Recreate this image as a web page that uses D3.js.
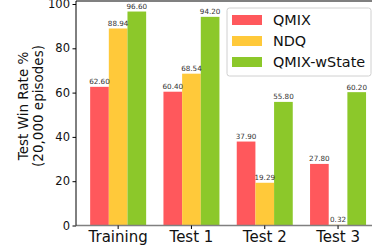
<!DOCTYPE html>
<html>
<head>
<meta charset="utf-8">
<script src="https://cdn.jsdelivr.net/npm/d3@7"></script>
<style>
  body { margin: 0; background: #fff; }
  svg { display: block; font-family: "DejaVu Sans", sans-serif; }
</style>
</head>
<body>
<svg id="chart" width="372" height="248"></svg>
<script>
// chart data
const categories = ["Training", "Test 1", "Test 2", "Test 3"];
const seriesNames = ["QMIX", "NDQ", "QMIX-wState"];
const qmix = [62.60, 60.40, 37.90, 27.80];
const ndq = [88.94, 68.54, 19.29, 0.32];
const qmixWState = [96.60, 94.20, 55.80, 60.20];
const yTicks = [0, 20, 40, 60, 80, 100];
const colors = ["#ff585c", "#ffc93a", "#8cc82a"];

const seriesValues = [qmix, ndq, qmixWState];
const rows = [];
categories.forEach((c, i) => {
  seriesNames.forEach((s, j) => rows.push({ cat: c, series: s, value: seriesValues[j][i] }));
});

const svg = d3.select("#chart");
const plotLeft = 76, plotRight = 372, plotTop = 1, plotBottom = 225.5;

//scales
const x0 = d3.scaleBand().domain(categories).range([81.5, 374.7]);
const x1 = d3.scaleBand().domain(seriesNames).range([8.65, 64.65]);
const y = d3.scaleLinear().domain([0, 100]).range([plotBottom, 4]);
const color = d3.scaleOrdinal().domain(seriesNames).range(colors);

//bars
svg.selectAll(".bar")
  .data(rows)
  .join("rect")
  .attr("class", "bar")
  .attr("x", d => x0(d.cat) + x1(d.series))
  .attr("y", d => y(d.value))
  .attr("width", x1.bandwidth())
  .attr("height", d => plotBottom - y(d.value))
  .attr("fill", d => color(d.series));

//value labels
svg.selectAll(".val")
  .data(rows)
  .join("text")
  .attr("class", "val")
  .attr("x", d => x0(d.cat) + x1(d.series) + x1.bandwidth() / 2)
  .attr("y", d => y(d.value) - 2.5)
  .attr("text-anchor", "middle")
  .attr("font-size", 7.2)
  .attr("fill", "#333")
  .text(d => d.value.toFixed(2));

//spines
svg.append("line").attr("x1", plotLeft).attr("x2", plotRight).attr("y1", plotTop).attr("y2", plotTop)
  .attr("stroke", "#808080").attr("stroke-width", 2);
svg.append("line").attr("x1", plotLeft).attr("x2", plotRight).attr("y1", plotBottom).attr("y2", plotBottom)
  .attr("stroke", "#808080").attr("stroke-width", 1.5);

//yAxis
const yAxis = d3.axisLeft(y).tickValues(yTicks).tickSize(3.5).tickPadding(2.5);
const gy = svg.append("g").attr("transform", `translate(${plotLeft},0)`).call(yAxis);
gy.select(".domain").attr("d", `M0,${plotTop}V${plotBottom}`).attr("stroke", "#000");
gy.selectAll("text").attr("font-size", 11.5).attr("fill", "#111").attr("font-family", "DejaVu Sans");

//xAxis
const xAxis = d3.axisBottom(x0).tickSize(3.5).tickPadding(2);
const gx = svg.append("g").attr("transform", `translate(0,${plotBottom})`).call(xAxis);
gx.select(".domain").remove();
gx.selectAll("text").attr("font-size", 15).attr("fill", "#111").attr("font-family", "DejaVu Sans");

//y label
const yl = svg.append("text")
  .attr("transform", "translate(28,106) rotate(-90)")
  .attr("text-anchor", "middle")
  .attr("font-size", 13.5)
  .attr("fill", "#111");
yl.append("tspan").attr("x", 0).attr("dy", 0).text("Test Win Rate %");
yl.append("tspan").attr("x", 0).attr("dy", 14.5).text("(20,000 episodes)");

//legend
const lg = svg.append("g").attr("transform", "translate(227,8)");
lg.append("rect").attr("width", 144).attr("height", 68).attr("rx", 2.5)
  .attr("fill", "#fff").attr("fill-opacity", 0.85).attr("stroke", "#d0d0d0");
seriesNames.forEach((s, i) => {
  const gi = lg.append("g").attr("transform", `translate(0,${12 + i * 21})`);
  gi.append("rect").attr("x", 5).attr("y", -5).attr("width", 30).attr("height", 10).attr("fill", color(s));
  gi.append("text").attr("x", 46).attr("y", 5.2).attr("font-size", 14.4).attr("fill", "#111").text(s);
});
</script>
</body>
</html>
